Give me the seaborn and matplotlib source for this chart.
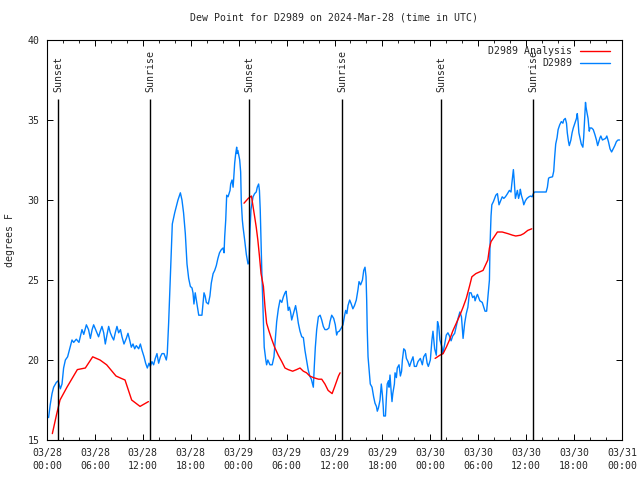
import matplotlib
matplotlib.use("Agg")
import matplotlib.pyplot as plt
import seaborn as sns
import pandas as pd
from matplotlib.ticker import MultipleLocator
from matplotlib.lines import Line2D

# ---------------- data ----------------
# observed D2989 dew point (hours since 2024-03-28 00:00 UTC, degrees F)
obs_hours = [
    0.2, 0.4, 0.63, 0.83, 1.17, 1.4, 1.67, 1.88, 2.08, 2.3, 2.58, 2.84, 3.13, 3.34, 3.67, 4.0,
    4.17, 4.38, 4.6, 4.93, 5.2, 5.43, 5.65, 5.84, 6.17, 6.46, 6.67, 6.88, 7.1, 7.3, 7.5, 7.72,
    7.93, 8.14, 8.35, 8.55, 8.76, 8.97, 9.2, 9.39, 9.64, 9.93, 10.14, 10.35, 10.56, 10.77, 10.98,
    11.18, 11.48, 11.69, 11.9, 12.15, 12.35, 12.56, 12.77, 12.94, 13.14, 13.35, 13.56, 13.77,
    13.98, 14.2, 14.4, 14.65, 14.94, 15.06, 15.23, 15.44, 15.57, 15.69, 15.99, 16.2, 16.4, 16.7,
    16.9, 17.1, 17.32, 17.53, 17.74, 17.95, 18.16, 18.28, 18.4, 18.56, 18.75, 18.9, 19.0, 19.4,
    19.66, 19.8, 19.95, 20.2, 20.4, 20.57, 20.8, 21.0, 21.2, 21.4, 21.6, 21.83, 22.04, 22.17,
    22.25, 22.38, 22.5, 22.67, 22.8, 22.92, 23.0, 23.17, 23.3, 23.38, 23.5, 23.63, 23.75, 23.8,
    23.9, 24.13, 24.25, 24.33, 24.46, 24.55, 24.75, 24.96, 25.17, 25.3, 25.42, 25.54, 25.8, 26.0,
    26.2, 26.33, 26.5, 26.6, 26.7, 26.8, 26.9, 27.0, 27.1, 27.2, 27.4, 27.5, 27.65, 27.92, 28.2,
    28.42, 28.58, 28.76, 28.97, 29.18, 29.4, 29.6, 29.8, 29.93, 30.1, 30.2, 30.35, 30.5, 30.64,
    30.8, 31.0, 31.13, 31.3, 31.47, 31.68, 31.9, 32.1, 32.3, 32.5, 32.7, 32.9, 33.1, 33.35, 33.47,
    33.6, 33.77, 33.98, 34.2, 34.4, 34.6, 34.8, 35.05, 35.3, 35.44, 35.65, 35.9, 36.1, 36.27,
    36.4, 36.6, 36.85, 37.06, 37.27, 37.4, 37.55, 37.69, 37.9, 38.1, 38.3, 38.5, 38.73, 38.94,
    39.07, 39.27, 39.5, 39.66, 39.82, 39.95, 40.03, 40.1, 40.2, 40.3, 40.48, 40.7, 40.9, 41.07,
    41.25, 41.36, 41.5, 41.7, 41.86, 42.0, 42.1, 42.16, 42.38, 42.5, 42.6, 42.76, 42.83, 42.95,
    43.1, 43.2, 43.3, 43.5, 43.58, 43.75, 43.86, 44.08, 44.25, 44.4, 44.5, 44.67, 44.85, 45.0,
    45.2, 45.4, 45.6, 45.83, 46.0, 46.25, 46.45, 46.75, 47.0, 47.17, 47.42, 47.6, 47.75, 48.0,
    48.2, 48.33, 48.54, 48.75, 48.9, 49.05, 49.2, 49.46, 49.57, 49.8, 50.0, 50.2, 50.4, 50.6,
    50.8, 51.05, 51.25, 51.47, 51.7, 51.9, 52.1, 52.3, 52.5, 52.7, 52.9, 53.1, 53.3, 53.5, 53.6,
    53.8, 53.9, 54.2, 54.5, 54.85, 55.05, 55.3, 55.4, 55.47, 55.6, 55.7, 55.9, 56.05, 56.2, 56.4,
    56.6, 56.8, 57.0, 57.2, 57.4, 57.6, 57.9, 58.1, 58.2, 58.4, 58.5, 58.65, 58.8, 58.9, 59.05,
    59.2, 59.27, 59.4, 59.6, 59.7, 59.9, 60.1, 60.35, 60.55, 60.75, 60.9, 61.05, 62.5, 62.66,
    62.8, 62.9, 63.3, 63.45, 63.57, 63.7, 63.87, 64.0, 64.2, 64.4, 64.6, 64.7, 64.9, 65.05, 65.15,
    65.3, 65.4, 65.6, 65.75, 65.9, 66.1, 66.3, 66.4, 66.5, 66.6, 66.75, 66.9, 67.1, 67.2, 67.35,
    67.43, 67.5, 67.6, 67.75, 67.9, 68.0, 68.2, 68.4, 68.6, 68.8, 68.95, 69.1, 69.25, 69.35,
    69.55, 69.75, 69.95, 70.1, 70.3, 70.5, 70.7, 70.9, 71.1, 71.3, 71.5, 71.7,
]
obs_values = [
    16.4, 17.2, 17.9, 18.3, 18.6, 18.7, 18.2, 18.5, 19.5, 20.0, 20.2, 20.7, 21.25, 21.1, 21.3, 21.1,
    21.45, 21.9, 21.6, 22.2, 21.9, 21.35, 21.9, 22.2, 21.8, 21.45, 21.8, 22.1, 21.7, 21.0, 21.55, 22.1,
    21.7, 21.45, 21.25, 21.7, 22.1, 21.7, 21.9, 21.45, 21.0, 21.35, 21.67, 21.25, 20.8, 21.0, 20.7,
    20.9, 20.7, 21.0, 20.6, 20.2, 19.8, 19.5, 19.8, 19.6, 19.9, 19.7, 20.1, 20.4,
    19.8, 20.2, 20.4, 20.4, 20.0, 20.4, 22.3, 25.2, 27.1, 28.5, 29.2, 29.6, 30.0, 30.45,
    30.0, 29.2, 27.9, 26.0, 25.1, 24.6, 24.5, 24.2, 23.5, 24.2, 23.6, 23.1, 22.8, 22.8,
    24.2, 24.0, 23.6, 23.5, 24.0, 24.8, 25.4, 25.6, 25.9, 26.35, 26.7, 26.9, 27.0, 26.7,
    27.7, 28.75, 30.3, 30.2, 30.4, 30.6, 31.0, 31.25, 30.8, 31.35, 32.3, 32.9, 33.3, 32.9,
    33.1, 32.5, 31.75, 29.9, 28.75, 28.3, 27.5, 26.6, 26.0, 26.1, 28.1, 29.4, 30.2, 30.4,
    30.5, 30.8, 31.0, 30.6, 29.4, 27.5, 25.5, 24.0, 22.5, 20.8, 20.0, 19.7, 20.0, 19.7, 19.7,
    20.2, 21.25, 22.4, 23.2, 23.75, 23.6, 23.95, 24.2, 24.3, 23.6, 23.1, 23.3, 23.0, 22.5,
    22.8, 23.2, 23.4, 22.9, 22.3, 21.8, 21.45, 21.4, 20.6, 20.0, 19.4, 19.0, 18.8, 18.3, 19.6,
    20.8, 21.9, 22.7, 22.8, 22.5, 22.1, 21.9, 21.9, 22.0, 22.4, 22.8, 22.6, 22.2, 21.56,
    21.75, 21.8, 22.0, 22.2, 22.8, 23.1, 22.9, 23.4, 23.75, 23.5, 23.2, 23.4, 23.75, 24.4,
    24.9, 24.7, 25.0, 25.6, 25.8, 25.2, 23.75, 21.9, 20.2, 19.6, 18.5, 18.3, 17.7, 17.3,
    17.1, 16.8, 17.0, 17.5, 18.5, 17.8, 17.1, 16.5, 16.5, 17.7, 18.5, 18.7, 18.3, 19.06,
    18.0, 17.4, 17.9, 18.5, 19.2, 18.9, 19.5, 19.7, 19.0, 19.3, 20.0, 20.7, 20.6, 20.1,
    19.9, 19.6, 19.9, 20.2, 19.6, 19.6, 19.9, 20.1, 19.7, 20.2, 20.4, 19.8, 19.6, 20.0,
    21.25, 21.8, 20.7, 20.3, 22.4, 22.1, 21.25, 20.8, 20.4, 21.0, 21.56, 21.7, 21.5, 21.2,
    21.5, 21.67, 22.1, 22.6, 23.0, 22.7, 21.35, 22.3, 22.9, 23.3, 24.2, 24.2, 23.9, 24.0, 23.7,
    24.0, 24.1, 23.7, 23.6, 23.05, 23.05, 24.5, 25.0, 27.1, 29.0, 29.7, 29.9, 30.1, 30.3, 30.4,
    29.7, 29.95, 30.2, 30.1, 30.2, 30.35, 30.6, 30.5, 31.0, 31.9, 31.25, 30.1, 30.4, 30.6, 30.1,
    30.4, 30.67, 30.3, 29.95, 29.7, 29.95, 30.1, 30.2, 30.25, 30.2, 30.4, 30.5, 30.5, 30.8,
    31.35, 31.4, 31.45, 31.8, 32.7, 33.5, 33.9, 34.4, 34.7, 34.9, 34.8, 35.0, 35.1, 34.8, 34.2,
    33.65, 33.4, 33.75, 34.2, 34.5, 34.8, 35.1, 35.4, 34.9, 34.2, 33.85, 33.5, 33.3, 33.9, 35.4,
    36.1, 35.8, 35.5, 35.1, 34.3, 34.5, 34.5, 34.4, 34.1, 33.75, 33.4, 33.65, 33.9, 34.0,
    33.75, 33.8, 33.85, 34.0, 33.65, 33.2, 33.0, 33.2, 33.4, 33.65, 33.75, 33.75,
]

# analysis (three separate segments)
ana_hours_1 = [0.67, 1.2, 1.63, 2.5, 3.8, 4.8, 5.72, 6.64, 7.47, 8.64, 9.3, 9.77, 10.6, 11.65, 12.7]
ana_values_1 = [15.4, 16.6, 17.5, 18.3, 19.4, 19.5, 20.2, 20.0, 19.7, 19.0, 18.85, 18.75, 17.5, 17.1, 17.4]
ana_hours_2 = [24.67, 25.2, 25.6, 25.8, 26.0, 26.2, 26.4, 26.6, 26.8, 27.1, 27.3, 27.5, 27.8, 28.1,
               28.5, 28.96, 29.4, 29.8, 30.2, 30.76, 31.25, 31.68, 32.1, 32.5, 32.9, 33.35, 34.0,
               34.4, 34.8, 35.2, 35.7, 36.0, 36.5, 36.7]
ana_values_2 = [29.8, 30.1, 30.25, 29.6, 28.96, 28.3, 27.5, 26.5, 25.4, 24.6, 23.3, 22.3, 21.8, 21.35,
                20.8, 20.3, 19.9, 19.5, 19.4, 19.3, 19.4, 19.5, 19.3, 19.2, 19.0, 18.9, 18.8,
                18.8, 18.5, 18.1, 17.9, 18.3, 19.0, 19.2]
ana_hours_3 = [48.6, 49.2, 49.6, 50.0, 50.4, 50.8, 51.25, 51.7, 52.1, 52.5, 52.9, 53.2, 53.7, 54.6,
               55.2, 55.4, 55.6, 56.0, 56.4, 57.0, 57.7, 58.3, 58.7, 59.3, 59.7, 60.2, 60.7]
ana_values_3 = [20.1, 20.3, 20.4, 20.8, 21.25, 21.8, 22.3, 22.8, 23.3, 23.85, 24.6, 25.2, 25.4, 25.6,
                26.25, 27.0, 27.4, 27.7, 28.0, 28.0, 27.9, 27.8, 27.75, 27.8, 27.9, 28.1, 28.2]

sun_hours = [1.42, 12.93, 25.33, 36.96, 49.35, 60.87]
sun_labels = ["Sunset", "Sunrise", "Sunset", "Sunrise", "Sunset", "Sunrise"]

tick_hours = list(range(0, 73, 6))
tick_labels = ["03/28\n00:00", "03/28\n06:00", "03/28\n12:00", "03/28\n18:00",
               "03/29\n00:00", "03/29\n06:00", "03/29\n12:00", "03/29\n18:00",
               "03/30\n00:00", "03/30\n06:00", "03/30\n12:00", "03/30\n18:00",
               "03/31\n00:00"]

title = "Dew Point for D2989 on 2024-Mar-28 (time in UTC)"
obs_name = "D2989"
ana_name = "D2989 Analysis"

# ---------------- plot ----------------
FS = 7.15
sns.set_style("ticks")
plt.rcParams["font.family"] = ["DejaVu Sans Mono"]
plt.rcParams["font.size"] = FS

fig = plt.figure(figsize=(6.4, 4.8), dpi=100)
ax = fig.add_axes([47 / 640, 40 / 480, 575 / 640, 400 / 480])

obs_df = pd.DataFrame({"hour": obs_hours, "dewpoint": obs_values})
ana_df = pd.concat([
    pd.DataFrame({"hour": ana_hours_1, "dewpoint": ana_values_1, "seg": 1}),
    pd.DataFrame({"hour": ana_hours_2, "dewpoint": ana_values_2, "seg": 2}),
    pd.DataFrame({"hour": ana_hours_3, "dewpoint": ana_values_3, "seg": 3}),
], ignore_index=True)

sns.lineplot(data=obs_df, x="hour", y="dewpoint", color="#0080ff", lw=1.0,
             estimator=None, sort=False, ax=ax, legend=False)
sns.lineplot(data=ana_df, x="hour", y="dewpoint", units="seg", color="#ff0000", lw=1.0,
             estimator=None, sort=False, ax=ax, legend=False)

ax.vlines(sun_hours, 15, 36.3, color="black", lw=1.0)
for h, lab in zip(sun_hours, sun_labels):
    ax.text(h, 36.75, lab, rotation=90, ha="center", va="bottom", fontsize=FS)

ax.set_xlim(0, 72)
ax.set_ylim(15, 40)
ax.set_xticks(tick_hours)
ax.set_xticklabels(tick_labels, linespacing=1.45)
ax.xaxis.set_minor_locator(MultipleLocator(2))
ax.set_yticks([15, 20, 25, 30, 35, 40])
ax.tick_params(which="major", direction="in", length=4.3, width=0.7, top=True, right=True,
               labelsize=FS, pad=5.5, color="black")
ax.tick_params(which="minor", direction="in", length=2.2, width=0.7, top=True, right=False)
ax.tick_params(axis="y", which="minor", left=False, right=False)
for sp in ax.spines.values():
    sp.set_linewidth(0.8)
    sp.set_color("black")

ax.set_xlabel("")
ax.set_ylabel("degrees F", fontsize=FS)
ax.yaxis.set_label_coords(-0.0557, 0.5)
ax.set_title(title, fontsize=FS, pad=14)

handles = [Line2D([], [], color="#ff0000", lw=1.0), Line2D([], [], color="#0080ff", lw=1.0)]
ax.legend(handles, [ana_name, obs_name], loc="upper right", frameon=False, markerfirst=False,
          handlelength=3.0, handletextpad=0.8, borderaxespad=0, borderpad=0,
          labelspacing=0.25, fontsize=FS, bbox_to_anchor=(0.979, 0.985))

fig.savefig("out.png", dpi=100)
